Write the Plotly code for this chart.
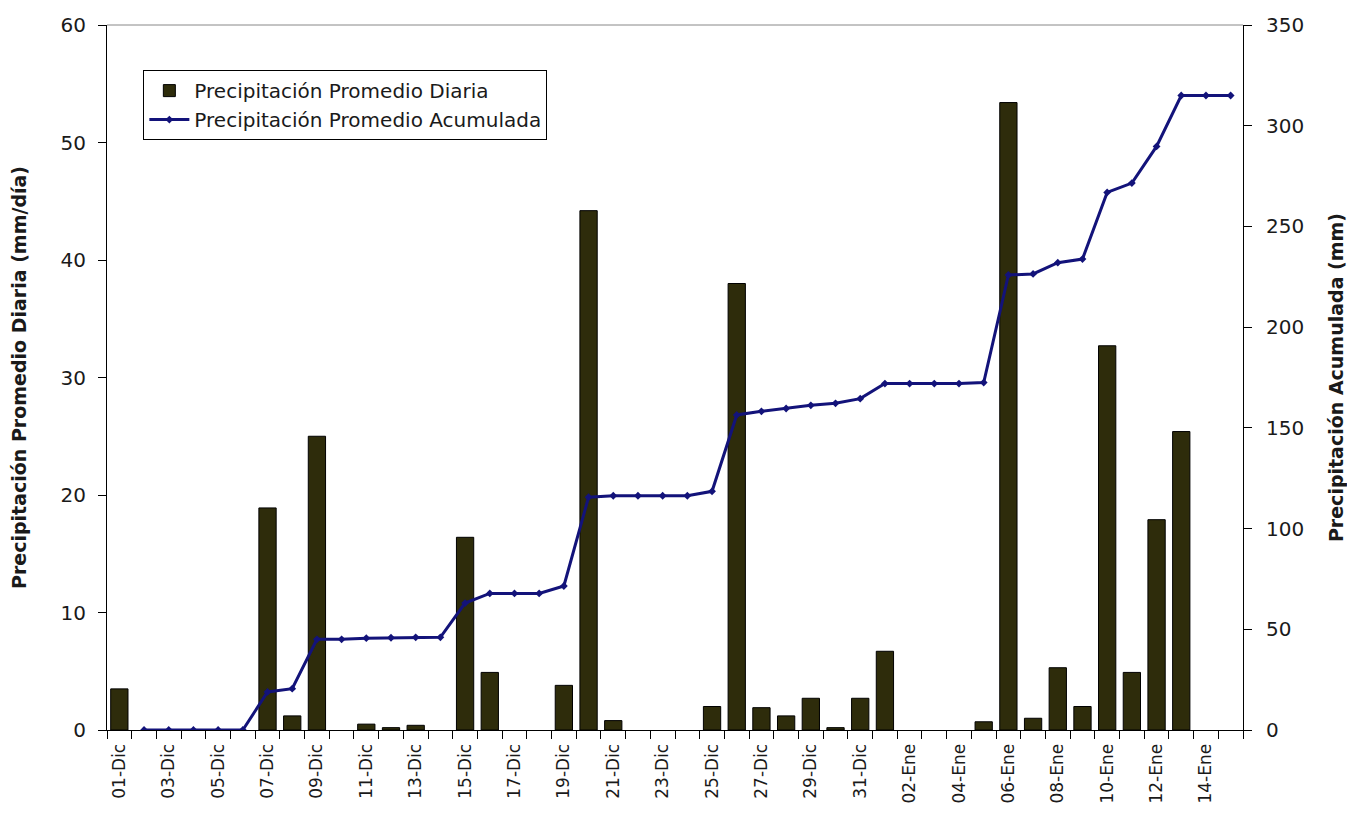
import plotly.graph_objects as go

categories = [f"{d:02d}-Dic" for d in range(1, 32)] + [f"{d:02d}-Ene" for d in range(1, 16)]

daily = [3.5, 0, 0, 0, 0, 0, 18.9, 1.2, 25.0, 0, 0.5, 0.2, 0.4, 0, 16.4, 4.9, 0, 0, 3.8, 44.2,
         0.8, 0, 0, 0, 2.0, 38.0, 1.9, 1.2, 2.7, 0.2, 2.7, 6.7, 0, 0, 0, 0.7, 53.4, 1.0, 5.3, 2.0,
         32.7, 4.9, 17.9, 25.4, 0, 0]

cumulative = [None, 0, 0, 0, 0, 0, 18.9, 20.5, 45.0, 45.0, 45.6, 45.8, 46.0, 46.0, 63.0, 67.8,
              67.8, 67.8, 71.5, 115.6, 116.3, 116.3, 116.3, 116.3, 118.5, 156.4, 158.2, 159.6,
              161.2, 162.2, 164.5, 172.0, 172.0, 172.0, 172.0, 172.5, 225.9, 226.4, 232.0, 233.8,
              266.9, 271.5, 289.7, 315.0, 315.0, 315.0]

tick_text = [c if i % 2 == 0 else "" for i, c in enumerate(categories)]

FONT = "DejaVu Sans, Liberation Sans, Arial, sans-serif"
TXT = "#1a1a1a"

# outline only on bars that exist (zero days show no bar)
bar_outline = [1 if v > 0 else 0 for v in daily]

fig = go.Figure()
fig.add_trace(go.Bar(
    x=categories, y=daily, name="Precipitación Promedio Diaria",
    marker=dict(color="#2e2c0b", line=dict(color="#000000", width=bar_outline)),
    yaxis="y",
))
fig.add_trace(go.Scatter(
    x=categories, y=cumulative, name="Precipitación Promedio Acumulada",
    mode="lines+markers", line=dict(color="#13137a", width=3),
    marker=dict(symbol="diamond", size=6, color="#13137a"),
    yaxis="y2", connectgaps=False,
))

fig.update_layout(
    width=1339, height=802,
    margin=dict(l=99, r=104, t=17, b=80),
    paper_bgcolor="white", plot_bgcolor="white",
    bargap=0.3,
    font=dict(family=FONT, size=19, color=TXT),
    showlegend=True,
    legend=dict(
        x=0.032, y=0.936, xanchor="left", yanchor="top",
        bordercolor="#000000", borderwidth=1, bgcolor="white",
        font=dict(family=FONT, size=20, color=TXT),
        tracegroupgap=0, itemwidth=40,
    ),
    xaxis=dict(
        type="category", categoryorder="array", categoryarray=categories,
        range=[-0.5, len(categories) - 0.5],
        tickmode="array", tickvals=categories, ticktext=tick_text,
        tickangle=-90, tickson="boundaries",
        ticks="outside", ticklen=8, tickcolor="#000000",
        ticklabelstandoff=6,
        showline=True, linecolor="#000000", linewidth=1,
        showgrid=False, automargin=False,
        tickfont=dict(family=FONT, size=17, color=TXT),
    ),
    yaxis=dict(
        range=[0, 60], dtick=10, ticks="outside", ticklen=8, tickcolor="#000000",
        ticklabelstandoff=8,
        showline=True, linecolor="#000000", linewidth=1, showgrid=False, zeroline=False,
        automargin=False,
        title=dict(text="<b>Precipitación Promedio Diaria (mm/día)</b>",
                   font=dict(family=FONT, size=19, color=TXT), standoff=40),
        tickfont=dict(family=FONT, size=20, color=TXT),
    ),
    yaxis2=dict(
        range=[0, 350], dtick=50, overlaying="y", side="right",
        ticks="outside", ticklen=8, tickcolor="#000000",
        ticklabelstandoff=10,
        showline=True, linecolor="#000000", linewidth=1, showgrid=False, zeroline=False,
        automargin=False,
        title=dict(text="<b>Precipitación Acumulada (mm)</b>",
                   font=dict(family=FONT, size=19, color=TXT), standoff=40),
        tickfont=dict(family=FONT, size=20, color=TXT),
    ),
    shapes=[dict(type="line", xref="paper", yref="paper", x0=0, x1=1, y0=1, y1=1,
                 line=dict(color="#888888", width=1))],
)

fig.write_html("out.html")
